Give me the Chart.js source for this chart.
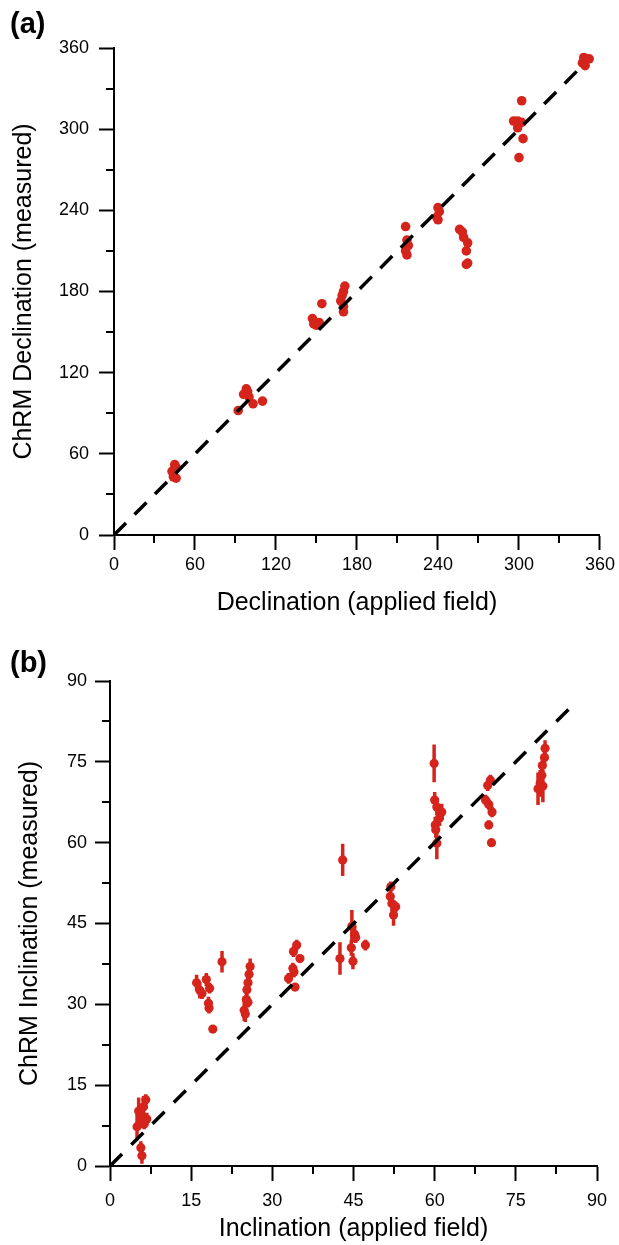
<!DOCTYPE html>
<html>
<head>
<meta charset="utf-8">
<script src="https://cdn.jsdelivr.net/npm/chart.js@4.4.1/dist/chart.umd.min.js"></script>
<style>
    body {margin: 0; background: #fff;}
    #wrap {position: relative; width: 619px; height: 1245px; overflow: hidden;}
    canvas {position: absolute; left: 0;}
    .tag {position: absolute; left: 10px; font: bold 29px 'Liberation Sans', Arial, sans-serif; line-height: 1; color: #000;}
</style>
</head>
<body>
<div id="wrap">
    <canvas id="chartA" width="619" height="620" style="top:0"></canvas>
    <canvas id="chartB" width="619" height="620" style="top:625px"></canvas>
    <div class="tag" style="top:9px">(a)</div>
    <div class="tag" style="top:648px">(b)</div>
</div>
<script>
// (a) declination : applied field vs measured ChRM
var decApplied = [45, 46, 43, 44, 46,
    92, 96, 98, 99, 100, 103, 110,
    147, 148, 150, 152, 154,
    171, 170, 169, 168, 170, 170,
    216, 217, 218, 216, 217,
    240, 241, 239, 240,
    256, 258, 259, 262, 261, 262, 261,
    302, 296, 299, 302, 299, 303, 300,
    348, 350, 352, 347, 349];
var decMeasured = [52, 50, 47, 43, 42,
    92, 104, 108, 106, 102, 97, 99,
    160, 156, 155, 157, 171,
    184, 180, 177, 173, 169, 165,
    228, 218, 214, 210, 207,
    242, 239, 235, 233,
    226, 224, 220, 216, 210, 201, 200,
    321, 306, 306, 305, 301, 293, 279,
    353, 352, 352, 349, 347];
var decLine = [0, 345];

// (b) inclination : applied field vs measured ChRM (+ error)
var incApplied = [5.0, 5.3, 5.8, 6.2, 6.6, 6.8, 6.3, 5.7, 5.9,
    16.0, 16.6, 17.0, 17.8, 18.4, 18.2, 18.3, 19.0, 20.7,
    25.9, 25.7, 25.5, 25.3, 25.2, 25.5, 24.8, 25.0,
    34.5, 33.9, 35.1, 33.8, 34.0, 33.0, 34.2,
    43.0, 42.5, 44.7, 45.2, 45.4, 44.6, 44.9, 47.2,
    51.9, 51.8, 52.1, 52.8, 52.4,
    59.9, 60.0, 60.4, 61.3, 60.9, 60.1, 60.2, 60.4,
    70.3, 69.8, 69.4, 70.0, 70.6, 70.0, 70.5,
    80.4, 80.3, 79.9, 79.8, 79.5, 79.1, 80.0];
var incMeasured = [7.3, 10.2, 9.5, 11.0, 12.3, 8.7, 7.8, 3.4, 1.9,
    34.0, 32.6, 32.0, 34.6, 33.0, 30.2, 29.3, 25.4, 37.9,
    37.0, 35.6, 34.0, 32.7, 30.9, 30.4, 28.9, 28.2,
    41.0, 39.8, 38.5, 36.7, 36.0, 34.8, 33.2,
    56.8, 38.5, 44.5, 43.0, 42.4, 40.5, 38.0, 41.0,
    51.8, 50.0, 48.7, 48.1, 46.6,
    74.7, 67.9, 66.6, 65.7, 64.6, 63.3, 62.4, 59.9,
    71.6, 70.6, 67.9, 67.1, 65.7, 63.3, 60.0,
    77.5, 75.8, 74.3, 72.5, 71.0, 70.0, 70.5];
var incError = [2.5, 2.5, 2, 2, 1, 1.2, 1, 1.2, 1.5,
    1.5, 1.5, 1, 1.2, 1, 1.2, 1, 0.5, 2,
    1.5, 1.5, 1.5, 1.5, 1.5, 1, 2, 1.5,
    1, 1, 0.7, 1, 1, 1, 0.7,
    3, 3, 3, 1.5, 1, 1.5, 1.5, 1,
    1, 1.5, 1.5, 1, 2,
    3.5, 1.5, 1.5, 1.5, 1.5, 1.5, 1.5, 3,
    1, 1, 1, 1, 1, 0.8, 0.5,
    1.5, 1.5, 1.5, 1.5, 2.5, 3, 3];
var incLine = [0, 86];

var RED = '#d4241c';

Chart.defaults.font.family = "'Liberation Sans', Arial, sans-serif";
Chart.defaults.color = '#000';

function toPoints(xs, ys) {
    var out = [];
    for (var i = 0; i < xs.length; i++) {
        out.push({x: xs[i], y: ys[i]});
    }
    return out;
}

// short ticks between the labelled ones
var minorTicks = {
    id: 'minorTicks',
    afterDraw: function (chart) {
        var major = chart.options.plugins.minorTicks.major;
        var ctx = chart.ctx;
        var xs = chart.scales.x, ys = chart.scales.y;
        ctx.save();
        ctx.strokeStyle = '#000';
        ctx.lineWidth = 2;
        ctx.beginPath();
        xs.ticks.forEach(function (t) {
            if (t.value % major !== 0) {
                var px = Math.round(xs.getPixelForValue(t.value));
                ctx.moveTo(px, xs.top);
                ctx.lineTo(px, xs.top + 8);
            }
        });
        ys.ticks.forEach(function (t) {
            if (t.value % major !== 0) {
                var py = Math.round(ys.getPixelForValue(t.value));
                ctx.moveTo(ys.right - 8, py);
                ctx.lineTo(ys.right, py);
            }
        });
        ctx.stroke();
        ctx.restore();
    }
};

// vertical error bars for panel (b)
var errorBars = {
    id: 'errorBars',
    beforeDatasetsDraw: function (chart) {
        var ctx = chart.ctx;
        var xs = chart.scales.x, ys = chart.scales.y;
        ctx.save();
        ctx.strokeStyle = RED;
        ctx.lineWidth = 3.5;
        ctx.beginPath();
        for (var i = 0; i < incApplied.length; i++) {
            var px = xs.getPixelForValue(incApplied[i]);
            ctx.moveTo(px, ys.getPixelForValue(incMeasured[i] + incError[i]));
            ctx.lineTo(px, ys.getPixelForValue(incMeasured[i] - incError[i]));
        }
        ctx.stroke();
        ctx.restore();
    }
};

function panelOptions(cfg) {
    var tickColor = function (c) {
        return c.tick && c.tick.value % cfg.major !== 0 ? 'rgba(0,0,0,0)' : '#000';
    };
    var label = function (v) {
        return v % cfg.major === 0 ? v : '';
    };
    return {
        responsive: false,
        animation: false,
        layout: {padding: {left: 0, top: cfg.top, right: cfg.right, bottom: 0}},
        plugins: {
            legend: {display: false},
            tooltip: {enabled: false},
            minorTicks: {major: cfg.major}
        },
        scales: {
            x: {
                type: 'linear', min: 0, max: cfg.max,
                afterFit: function (s) { s.height = cfg.xh; },
                border: {display: true, color: '#000', width: 2},
                grid: {drawOnChartArea: false, drawTicks: true, tickLength: 15, tickWidth: 2, tickColor: tickColor},
                ticks: {stepSize: cfg.minor, padding: cfg.xpad, color: '#000', font: {size: 18},
                    maxRotation: 0, autoSkip: false, callback: label},
                title: {display: true, text: cfg.xTitle, color: '#000', font: {size: 25},
                    padding: {top: 0, bottom: cfg.xtp}}
            },
            y: {
                type: 'linear', min: 0, max: cfg.max,
                afterFit: function (s) { s.width = cfg.yw; },
                border: {display: true, color: '#000', width: 2},
                grid: {drawOnChartArea: false, drawTicks: true, tickLength: 15, tickWidth: 2, tickColor: tickColor},
                ticks: {stepSize: cfg.minor, padding: cfg.ypad, color: '#000', font: {size: 18},
                    autoSkip: false, callback: label},
                title: {display: true, text: cfg.yTitle, color: '#000', font: {size: 25},
                    padding: {top: cfg.ytp, bottom: 0}}
            }
        }
    };
}

new Chart(document.getElementById('chartA').getContext('2d'), {
    type: 'scatter',
    data: {
        datasets: [{
            data: toPoints(decLine, decLine),
            showLine: true,
            borderColor: '#000',
            borderWidth: 3.5,
            borderDash: [17, 12],
            pointRadius: 0
        }, {
            data: toPoints(decApplied, decMeasured),
            pointRadius: 4.8,
            pointBackgroundColor: RED,
            pointBorderWidth: 0,
            clip: false
        }]
    },
    options: panelOptions({
        max: 360, minor: 30, major: 60, top: 48, right: 18, xh: 85, yw: 114,
        xpad: 4, ypad: 10, xtp: 2, ytp: 9,
        xTitle: 'Declination (applied field)',
        yTitle: 'ChRM Declination (measured)'
    }),
    plugins: [minorTicks]
});

new Chart(document.getElementById('chartB').getContext('2d'), {
    type: 'scatter',
    data: {
        datasets: [{
            data: toPoints(incLine, incLine),
            showLine: true,
            borderColor: '#000',
            borderWidth: 3.5,
            borderDash: [17, 13],
            pointRadius: 0
        }, {
            data: toPoints(incApplied, incMeasured),
            pointRadius: 4.6,
            pointBackgroundColor: RED,
            pointBorderWidth: 0,
            clip: false
        }]
    },
    options: panelOptions({
        max: 90, minor: 7.5, major: 15, top: 56, right: 22, xh: 79, yw: 110,
        xpad: 9, ypad: 8, xtp: 1, ytp: 15,
        xTitle: 'Inclination (applied field)',
        yTitle: 'ChRM Inclination (measured)'
    }),
    plugins: [minorTicks, errorBars]
});
</script>
</body>
</html>
